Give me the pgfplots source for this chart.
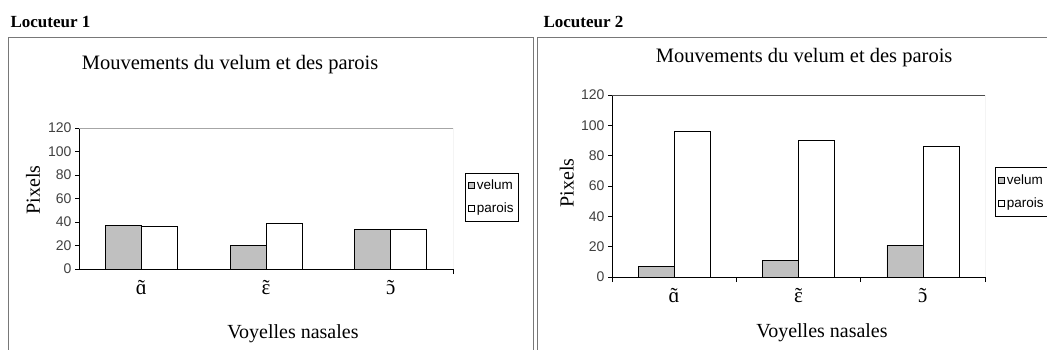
\documentclass[border=0pt]{standalone}
\usepackage{pgfplots}
\pgfplotsset{compat=1.18}
\usepackage{fontspec}
\setmainfont{Liberation Serif}
\setsansfont{Liberation Sans}

\definecolor{velum}{RGB}{192,192,192}
\definecolor{cadre}{RGB}{120,120,120}
\newcommand\nas[1]{\accent"02DC #1}

\pgfplotsset{
  every axis title shift=0pt,
  nasal/.style={
    scale only axis,
    xmin=-0.5, xmax=2.5, ymin=0, ymax=120,
    ytick={0,20,...,120},
    xtick={0,1,2},
    xticklabels={\nas{ɑ},\nas{ɛ},\nas{ɔ}},
    major x tick style={draw=none},
    minor x tick style={black, line width=0.8pt},
    ytick style={black, line width=0.8pt},
    major tick length=4pt, minor tick length=5pt,
    tick align=outside,
    axis x line*=bottom, axis y line*=left,
    axis line style={black, line width=0.9pt, -},
    ybar=0pt, bar width=36pt,
    y tick label style={font=\sffamily\fontsize{14}{14}\selectfont, text=black!75,
      /pgf/number format/assume math mode=true},
    x tick label style={font=\fontsize{21}{21}\selectfont, yshift=-4pt},
    label style={font=\fontsize{20}{20}\selectfont},
    title style={font=\fontsize{20.5}{20.5}\selectfont, anchor=center},
    legend style={font=\sffamily\fontsize{13.5}{14}\selectfont, draw=black,
      line width=0.6pt, inner xsep=3pt, inner ysep=5pt, row sep=8pt,
      cells={anchor=west}, anchor=west},
    legend image code/.code={\draw[##1, line width=0.6pt] (0pt,-3pt) rectangle (6pt,3pt);},
    every axis plot/.append style={draw=black, line width=0.6pt},
  }
}

\begin{document}
\begin{tikzpicture}
\path[use as bounding box] (0,0) rectangle (1047pt,349pt);

% cadres
\draw[cadre, line width=0.8pt] (8.5pt,-5pt) |- (533pt,312pt) -- (533pt,-5pt);
\draw[cadre, line width=0.8pt] (537pt,-5pt) |- (1060pt,312pt);
\node[anchor=west, font=\bfseries\fontsize{17}{17}\selectfont] at (7pt,327pt) {Locuteur 1};
\node[anchor=west, font=\bfseries\fontsize{17}{17}\selectfont] at (540pt,327pt) {Locuteur 2};

% Locuteur 1
\begin{axis}[nasal,
  at={(79pt,80pt)}, anchor=south west,
  width=374pt, height=141pt,
  minor xtick={2.5},
  title={Mouvements du velum et des parois},
  title style={at={(axis description cs:0.404,1.447)}},
  xlabel={Voyelles nasales},
  xlabel style={at={(axis description cs:0.572,-0.461)}, anchor=center},
  ylabel={Pixels},
  ylabel style={at={(axis description cs:-0.123,0.56)}, anchor=center},
  legend style={at={(axis description cs:1.032,0.51)}},
]
\addplot[fill=velum] coordinates {(0,37) (1,20) (2,34)};
\addplot[fill=white] coordinates {(0,36) (1,39) (2,34)};
\legend{velum,parois}
\draw[black!35, line width=0.6pt] (rel axis cs:0,1) -- (rel axis cs:1,1) -- (rel axis cs:1,0);
\end{axis}

% Locuteur 2
\begin{axis}[nasal,
  at={(612pt,72pt)}, anchor=south west,
  width=373pt, height=182pt,
  minor xtick={-0.5,0.5,1.5,2.5},
  title={Mouvements du velum et des parois},
  title style={at={(axis description cs:0.515,1.203)}},
  xlabel={Voyelles nasales},
  xlabel style={at={(axis description cs:0.563,-0.308)}, anchor=center},
  ylabel={Pixels},
  ylabel style={at={(axis description cs:-0.121,0.516)}, anchor=center},
  legend style={at={(axis description cs:1.027,0.467)}},
]
\addplot[fill=velum] coordinates {(0,7) (1,11) (2,21)};
\addplot[fill=white] coordinates {(0,96) (1,90) (2,86)};
\legend{velum,parois}
\draw[black!70, line width=0.6pt] (rel axis cs:0,1) -- (rel axis cs:1,1);
\draw[black!35, line width=0.6pt] (rel axis cs:1,1) -- (rel axis cs:1,0);
\end{axis}
\end{tikzpicture}
\end{document}
